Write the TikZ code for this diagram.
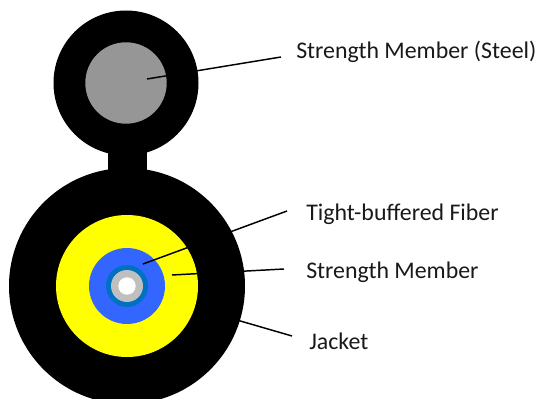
\documentclass[tikz,border=0pt]{standalone}
\usepackage{fontspec}
\setmainfont{Carlito}
\usepackage{xcolor}
\usetikzlibrary{positioning}
\definecolor{steelc}{HTML}{969696}
\definecolor{memberc}{HTML}{FFFF00}
\definecolor{tubec}{HTML}{3366FF}
\definecolor{coatc}{HTML}{0070C0}
\definecolor{cladc}{HTML}{BFBFBF}
\tikzset{
  lead/.style={black,line width=1.1pt},
  lbl/.style={anchor=base west,inner sep=0pt,font=\fontsize{17.9}{21}\selectfont,text=black!90}
}
\begin{document}
\begin{tikzpicture}[x=0.75pt,y=-0.75pt]
\clip (0,0) rectangle (539,399);
\fill[black] (126,83) circle (72.5);
\fill[black] (108,140) rectangle (146.7,190);
\fill[black] (127,286) circle (118);
\fill[steelc] (126,83) circle (40.7);
\fill[memberc] (127,286) circle (71);
\fill[tubec] (127,286) circle (38);
\fill[coatc] (127,286) circle (21);
\fill[cladc] (127,286) circle (16);
\fill[white] (127,286) circle (8.7);
\node[lbl] (steel) at (296,58.5) {Strength Member (Steel)};
\node[lbl] (fiber) at (306,220.5) {Tight-buffered Fiber};
\node[lbl] (member) at (306,278) {Strength Member};
\node[lbl] (jacket) at (309,349) {Jacket};
\coordinate (steelA) at (147,79);
\coordinate (steelB) at (281,57);
\coordinate (fiberA) at (143,264);
\coordinate (fiberB) at (287,211);
\coordinate (memberA) at (172,275);
\coordinate (memberB) at (284,269);
\coordinate (jacketA) at (230,318);
\coordinate (jacketB) at (292,336);
\draw[lead] (steelA) -- (steelB);
\draw[lead] (fiberA) -- (fiberB);
\draw[lead] (memberA) -- (memberB);
\draw[lead] (jacketA) -- (jacketB);
\end{tikzpicture}
\end{document}
